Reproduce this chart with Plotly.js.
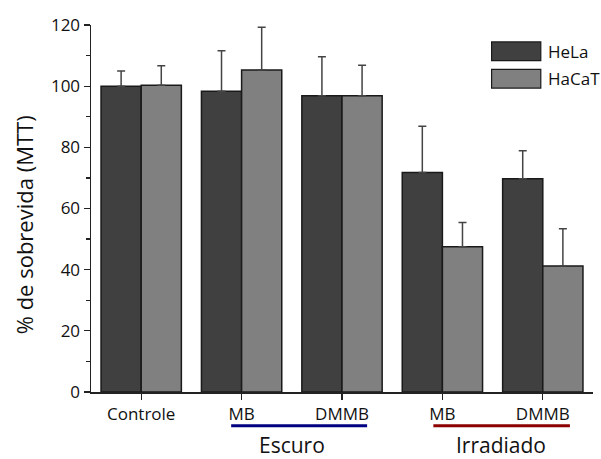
<!DOCTYPE html>
<html>
<head>
<meta charset="utf-8">
<script src="https://cdn.plot.ly/plotly-3.0.1.min.js"></script>
<style>html,body{margin:0;padding:0;background:#fff;}#chart{width:601px;height:459px;}</style>
</head>
<body>
<div id="chart"></div>
<script>
var categories = ['Controle', 'MB escuro', 'DMMB escuro', 'MB irradiado', 'DMMB irradiado'];
var tickLabels = ['Controle', 'MB', 'DMMB', 'MB', 'DMMB'];
var seriesNames = ['HeLa', 'HaCaT'];
var helaValues = [100, 98.3, 96.9, 71.8, 69.7];
var helaErrors = [5.0, 13.3, 12.7, 15.1, 9.2];
var hacatValues = [100.3, 105.3, 96.9, 47.5, 41.2];
var hacatErrors = [6.4, 14.0, 9.9, 7.9, 12.2];
var groupLabels = ['Escuro', 'Irradiado'];
var yTitle = '% de sobrevida (MTT)';

var FONT = 'Open Sans, Noto Sans, sans-serif';
var colors = ['#404040', '#808080'];

function barTrace(name, vals, errs, color) {
  return {
    type: 'bar', name: name, x: categories, y: vals,
    marker: {color: color, line: {color: '#1a1a1a', width: 1.5}},
    error_y: {type: 'data', array: errs, symmetric: false,
      arrayminus: errs.map(function(){return 0;}),
      color: '#444', thickness: 1.5, width: 4},
    showlegend: false
  };
}

var data = [
  barTrace(seriesNames[0], helaValues, helaErrors, colors[0]),
  barTrace(seriesNames[1], hacatValues, hacatErrors, colors[1])
];

var shapes = [
  {type: 'line', xref: 'x', yref: 'paper', x0: 0.896, x1: 2.25, y0: -0.092, y1: -0.092,
   line: {color: '#000080', width: 3}},
  {type: 'line', xref: 'x', yref: 'paper', x0: 2.91, x1: 4.27, y0: -0.092, y1: -0.092,
   line: {color: '#8b0000', width: 3}},
  {type: 'rect', xref: 'paper', yref: 'paper', x0: 0.798, x1: 0.896, y0: 0.903, y1: 0.954,
   fillcolor: colors[0], line: {color: '#1a1a1a', width: 1.2}},
  {type: 'rect', xref: 'paper', yref: 'paper', x0: 0.798, x1: 0.896, y0: 0.828, y1: 0.879,
   fillcolor: colors[1], line: {color: '#1a1a1a', width: 1.2}}
];

var annotations = [
  {xref: 'paper', yref: 'paper', x: -0.133, y: 0.455, text: yTitle, showarrow: false,
   textangle: -90, font: {family: FONT, size: 22, color: '#111'}, xanchor: 'center', yanchor: 'middle'},
  {xref: 'x', yref: 'paper', x: 1.5, y: -0.145, text: groupLabels[0], showarrow: false,
   font: {family: FONT, size: 21, color: '#111'}, xanchor: 'center', yanchor: 'middle'},
  {xref: 'x', yref: 'paper', x: 3.58, y: -0.145, text: groupLabels[1], showarrow: false,
   font: {family: FONT, size: 21, color: '#111'}, xanchor: 'center', yanchor: 'middle'},
  {xref: 'paper', yref: 'paper', x: 0.906, y: 0.928, text: seriesNames[0], showarrow: false,
   font: {family: FONT, size: 17, color: '#111'}, xanchor: 'left', yanchor: 'middle'},
  {xref: 'paper', yref: 'paper', x: 0.906, y: 0.854, text: seriesNames[1], showarrow: false,
   font: {family: FONT, size: 17, color: '#111'}, xanchor: 'left', yanchor: 'middle'}
];

var layout = {
  width: 601, height: 459,
  margin: {l: 91, r: 8, t: 25, b: 67},
  paper_bgcolor: '#fff', plot_bgcolor: '#fff',
  bargap: 0.2, bargroupgap: 0, barmode: 'group',
  font: {family: FONT, color: '#111'},
  xaxis: {
    type: 'category', range: [-0.5, 4.5],
    tickmode: 'array', tickvals: categories, ticktext: tickLabels,
    ticks: 'outside', ticklen: 6, tickwidth: 1.2, tickcolor: '#222',
    showline: true, linecolor: '#222', linewidth: 1.5,
    showgrid: false, zeroline: false,
    tickfont: {family: FONT, size: 17, color: '#111'}
  },
  yaxis: {
    range: [0, 120], dtick: 20, tick0: 0,
    ticks: 'outside', ticklen: 6, tickwidth: 1.2, tickcolor: '#222',
    minor: {dtick: 10, ticks: 'outside', ticklen: 4, tickwidth: 1.2, tickcolor: '#222'},
    showline: true, linecolor: '#222', linewidth: 1.5,
    showgrid: false, zeroline: false,
    tickfont: {family: FONT, size: 17, color: '#111'}
  },
  shapes: shapes,
  annotations: annotations,
  showlegend: false
};

Plotly.newPlot('chart', data, layout, {displayModeBar: false, staticPlot: true});
</script>
</body>
</html>
